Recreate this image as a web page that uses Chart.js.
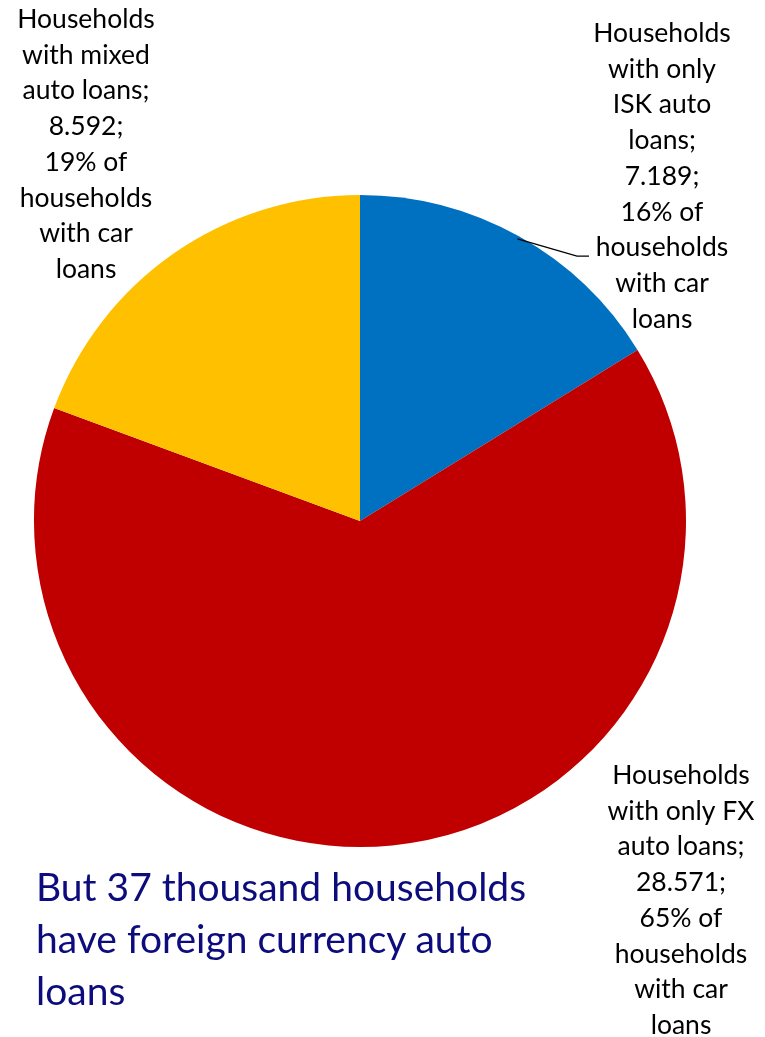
<!DOCTYPE html>
<html>
<head>
<meta charset="utf-8">
<script src="https://cdn.jsdelivr.net/npm/chart.js@4/dist/chart.umd.min.js"></script>
<style>
  body { margin: 0; background: #fff; }
  #wrap { position: relative; width: 765px; height: 1037px; }
  #caption {
    position: absolute; left: 36px; top: 860px; width: 515px;
    font-family: Lato, "Open Sans", sans-serif; font-size: 39px; line-height: 52px;
    color: #0c0c7c;
  }
</style>
</head>
<body>
<div id="wrap">
  <canvas id="pieChart"></canvas>
  <div id="caption">But 37 thousand households have foreign currency auto loans</div>
</div>
<script>
// data (thousands of households)
const categories = [
  ["Households", "with only", "ISK auto", "loans;"],
  ["Households", "with only FX", "auto loans;"],
  ["Households", "with mixed", "auto loans;"]
];
const households = [7.189, 28.571, 8.592];
const shares = [16, 65, 19];
const colors = ["#0070C0", "#C00000", "#FFC000"];

// where each label block sits (centre x, first baseline y) and whether it gets a leader line
const labelSpots = [
  { x: 662, y: 42, leader: true },
  { x: 681, y: 784, leader: false },
  { x: 86, y: 28, leader: false }
];

const labelPlugin = {
  id: "sliceLabels",
  afterDraw(chart) {
    const ctx = chart.ctx;
    const arcs = chart.getDatasetMeta(0).data;
    ctx.save();
    ctx.font = "26.5px Lato, 'Open Sans', sans-serif";
    ctx.fillStyle = "#000";
    ctx.textAlign = "center";
    ctx.textBaseline = "alphabetic";
    const lh = 35.7;
    arcs.forEach((arc, i) => {
      const spot = labelSpots[i];
      const lines = categories[i].concat([
        households[i].toFixed(3) + ";",
        shares[i] + "% of",
        "households",
        "with car",
        "loans"
      ]);
      lines.forEach((t, k) => ctx.fillText(t, spot.x, spot.y + k * lh));
      if (spot.leader) {
        const p = arc.getProps(["x", "y", "startAngle", "endAngle", "outerRadius"], true);
        const mid = (p.startAngle + p.endAngle) / 2;
        const sx = p.x + Math.cos(mid) * (p.outerRadius - 3);
        const sy = p.y + Math.sin(mid) * (p.outerRadius - 3);
        const ly = spot.y + 6 * lh;
        ctx.strokeStyle = "#000";
        ctx.lineWidth = 1.3;
        ctx.beginPath();
        ctx.moveTo(sx, sy);
        ctx.lineTo(577, ly);
        ctx.lineTo(589, ly);
        ctx.stroke();
      }
    });
    ctx.restore();
  }
};

const ctx = document.getElementById("pieChart").getContext("2d");
const pieChart = new Chart(ctx, {
  type: "pie",
  data: {
    labels: categories.map((c) => c.join(" ")),
    datasets: [
      {
        data: households,
        backgroundColor: colors,
        borderWidth: 0
      }
    ]
  },
  options: {
    responsive: true,
    maintainAspectRatio: false,
    animation: false,
    layout: { padding: { left: 34, right: 79, top: 195, bottom: 190 } },
    plugins: {
      legend: { display: false },
      tooltip: { enabled: false }
    }
  },
  plugins: [labelPlugin]
});
</script>
</body>
</html>
